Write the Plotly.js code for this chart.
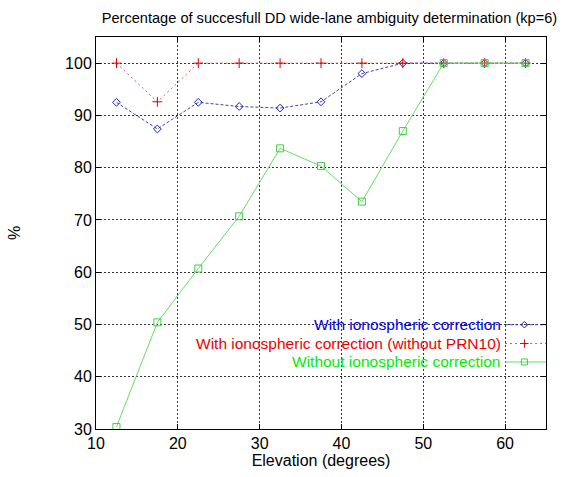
<!DOCTYPE html>
<html><head><meta charset="utf-8">
<script src="https://cdn.plot.ly/plotly-3.0.1.min.js"></script>
<style>html,body{margin:0;padding:0;background:#fff}#c{width:568px;height:477px}</style>
</head><body><div id="c"></div>
<script>
const elevation = [12.5, 17.5, 22.5, 27.5, 32.5, 37.5, 42.5, 47.5, 52.5, 57.5, 62.5];
const withIono = [92.5, 87.4, 92.5, 91.7, 91.4, 92.6, 98.0, 100, 100, 100, 100];
const withIonoNoPRN10 = [100, 92.6, 100, 100, 100, 100, 100, 100, 100, 100, 100];
const withoutIono = [30.4, 50.4, 60.7, 70.7, 83.7, 80.3, 73.5, 87.0, 100, 100, 100];
const seriesNames = ["With ionospheric correction", "With ionospheric correction (without PRN10)", "Without ionospheric correction"];
const xTicks = [10, 20, 30, 40, 50, 60];
const yTicks = [30, 40, 50, 60, 70, 80, 90, 100];

const font = "Liberation Sans, Arial, sans-serif";
const styles = [
  {line: {color: '#4444aa', width: 1, dash: '3px,2px'}, marker: {symbol: 'diamond-open', size: 6, color: '#2222bb', line: {width: 1}}, text: '#0000ee'},
  {line: {color: '#dd5555', width: 1, dash: '2px,3px'}, marker: {symbol: 'cross-thin-open', size: 7, color: '#dd0000', line: {width: 1, color: '#dd0000'}}, text: '#ee0000'},
  {line: {color: '#66dd66', width: 1}, marker: {symbol: 'square-open', size: 7, color: '#44cc44', line: {width: 1}}, text: '#00ee00'}
];
const series = [withIono, withIonoNoPRN10, withoutIono];

const traces = series.map((ys, i) => ({
  x: elevation, y: ys, type: 'scatter', mode: 'lines+markers',
  name: seriesNames[i], line: styles[i].line, marker: styles[i].marker,
  showlegend: false, hoverinfo: 'skip'
}));

// custom legend (sample on the right of the text, gnuplot style)
const legY = [0.266, 0.218, 0.171];
const annotations = [];
seriesNames.forEach((n, i) => {
  traces.push({x: [0.909, 1.0], y: [legY[i], legY[i]], xaxis: 'x2', yaxis: 'y2', mode: 'lines',
    line: styles[i].line, showlegend: false, hoverinfo: 'skip'});
  traces.push({x: [0.952], y: [legY[i]], xaxis: 'x2', yaxis: 'y2', mode: 'markers',
    marker: Object.assign({}, styles[i].marker, {size: styles[i].marker.size - 1}), showlegend: false, hoverinfo: 'skip'});
  annotations.push({xref: 'paper', yref: 'paper', x: 0.905, y: legY[i], xanchor: 'right', yanchor: 'middle',
    text: n, showarrow: false, font: {family: font, size: 15.5, color: styles[i].text}});
});

const axisCommon = {
  showline: true, linecolor: '#000', linewidth: 1, mirror: 'ticks',
  ticks: 'inside', ticklen: 5, tickcolor: '#000',
  showgrid: true, gridcolor: '#333', griddash: '2px,2px', gridwidth: 1,
  zeroline: false, tickfont: {family: font, size: 16, color: '#000'}
};

const layout = {
  width: 568, height: 477,
  margin: {l: 96, r: 22, t: 37, b: 48},
  paper_bgcolor: '#fff', plot_bgcolor: '#fff',
  title: {text: 'Percentage of succesfull DD wide-lane ambiguity determination (kp=6)',
    x: 0.58, xanchor: 'center', xref: 'container', y: 0.962, yref: 'container', yanchor: 'middle',
    font: {family: font, size: 14.6, color: '#000'}},
  xaxis: Object.assign({}, axisCommon, {range: [10, 65], tickvals: xTicks, ticktext: xTicks.map(String),
    title: {text: 'Elevation (degrees)', standoff: 2, font: {family: font, size: 16, color: '#000'}}}),
  yaxis: Object.assign({}, axisCommon, {range: [30, 105], tickvals: yTicks, ticktext: yTicks.map(String),
    title: {text: '%', standoff: 40, font: {family: font, size: 16, color: '#000'}}}),
  xaxis2: {overlaying: 'x', range: [0, 1], visible: false, fixedrange: true},
  yaxis2: {overlaying: 'y', range: [0, 1], visible: false, fixedrange: true},
  annotations: annotations,
  showlegend: false
};

Plotly.newPlot('c', traces, layout, {staticPlot: true});
</script></body></html>
